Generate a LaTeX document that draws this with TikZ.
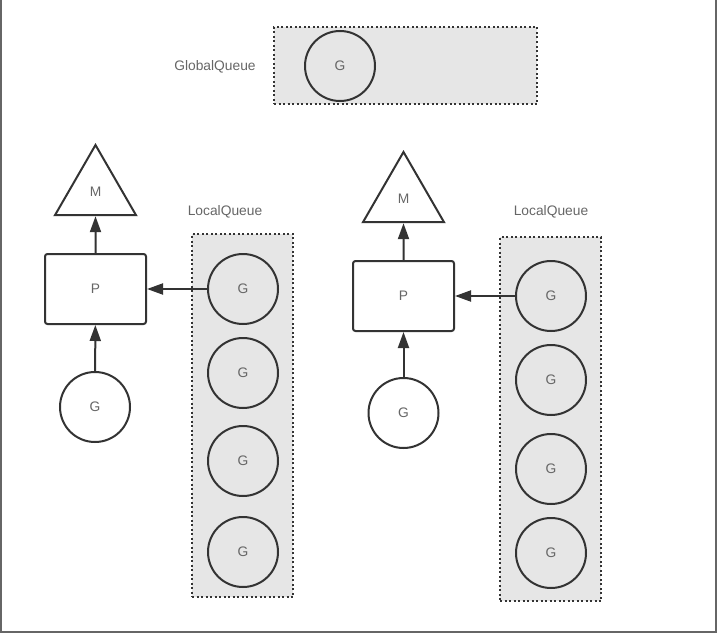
\documentclass[tikz,border=0pt]{standalone}
\usepackage{fontspec}
\setmainfont{Liberation Sans}
\usetikzlibrary{arrows.meta,shapes.geometric}
\definecolor{ink}{HTML}{333333}
\definecolor{qfill}{HTML}{E6E6E6}
\definecolor{txt}{HTML}{666666}
\tikzset{
  every node/.style={font=\fontsize{13.8}{16}\selectfont,text=txt},
  queue/.style={draw=ink,fill=qfill,line width=2pt,dash pattern=on 2pt off 2.5pt,inner sep=0pt},
  gor/.style={circle,draw=ink,line width=2pt,minimum size=70pt,inner sep=0pt},
  proc/.style={rectangle,rounded corners=2.5pt,draw=ink,fill=white,line width=2pt,minimum width=101pt,minimum height=70pt},
  mach/.style={regular polygon,regular polygon sides=3,draw=ink,line width=2pt,minimum size=93.6pt,inner sep=0pt}
}
\begin{document}
\begin{tikzpicture}[x=1pt,y=-1pt]
      \useasboundingbox (0,0) rectangle (720,634);
      \draw[gray!80!black,line width=2pt] (1,0) -- (1,632) -- (716,632) -- (716,0);
      % queues
      \draw
        (405.5,65.5) node[queue,minimum width=263pt,minimum height=77pt] (gq){}
        (242.5,415.5) node[queue,minimum width=101pt,minimum height=363pt] (lqa){}
        (550.5,419) node[queue,minimum width=101pt,minimum height=364pt] (lqb){}
        (215,67) node (gql){GlobalQueue}
        (225,212) node (lqal){LocalQueue}
        (551,212) node (lqbl){LocalQueue};
      % goroutines
      \draw
        (340,66) node[gor] (g0){G}
        (243,289) node[gor] (a1){G}
        (243,373) node[gor] (a2){G}
        (243,461) node[gor] (a3){G}
        (243,552) node[gor] (a4){G}
        (551,296) node[gor] (b1){G}
        (551,380) node[gor] (b2){G}
        (551,469) node[gor] (b3){G}
        (551,553) node[gor] (b4){G}
        (95,407) node[gor,fill=white] (ga){G}
        (403.5,413) node[gor,fill=white] (gb){G};
      % P and M
      \draw
        (95.5,289) node[proc] (pa){P}
        (403.5,296) node[proc] (pb){P}
        (95.5,191.8) node[mach] (ma){M}
        (403.5,198.8) node[mach] (mb){M};
      \begin{scope}[ink,line width=2pt,-{Triangle[length=16pt,width=11pt]}]
        \draw (pa) to (ma.south);
        \draw (pb) to (mb.south);
        \draw (ga) to (pa);
        \draw (gb) to (pb);
        \draw (a1) to (pa);
        \draw (b1) to (pb);
      \end{scope}
    \end{tikzpicture}
\end{document}
